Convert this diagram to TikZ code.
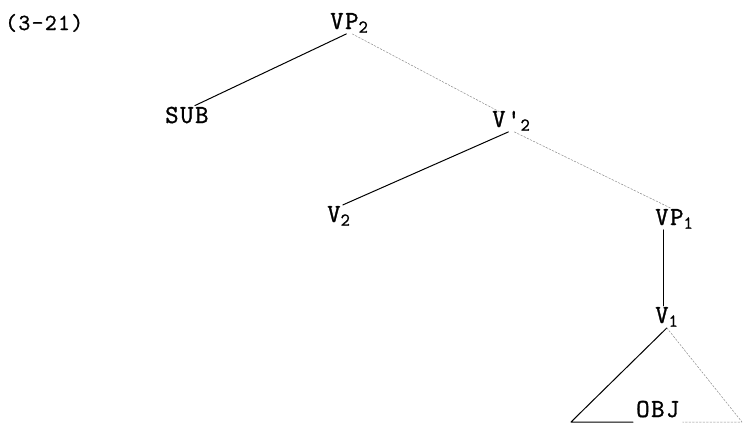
\documentclass[tikz,border=0pt]{standalone}
\usepackage{fontspec}
\newfontfamily\treefont{Latin Modern Mono}[LetterSpace=6,FakeBold=1.2]
\usetikzlibrary{calc}

\begin{document}
\begin{tikzpicture}[x=1pt,y=-1pt,line cap=round,line join=round,
    every node/.style={inner sep=1pt,font=\treefont\fontsize{26}{26}\selectfont},
    cat/.style={anchor=base west},
    branch/.style={line width=1pt},
    faint/.style={line width=0.5pt,black!45,dash pattern=on 2pt off 1.5pt}]
  \useasboundingbox (0,0) rectangle (743,424);
  \node[cat,font=\treefont\fontsize{23}{23}\selectfont] (lbl) at (4,30) {(3-21)};
  \node[cat] (vptwo) at (329,29) {VP\textsubscript{2}};
  \node[cat] (sub) at (164,123) {SUB};
  \node[cat] (vbartwo) at (491,127) {V'\textsubscript{2}};
  \node[cat] (vtwo) at (326,222) {V\textsubscript{2}};
  \node[cat] (vpone) at (654,225) {VP\textsubscript{1}};
  \node[cat] (vone) at (654,323) {V\textsubscript{1}};
  \node[cat,inner sep=0pt] (obj) at (636,417) {OBJ};
  \coordinate (baseL) at (571,422);
  \coordinate (baseR) at (742,422);
  % branches
  \draw[branch] ([xshift=-3pt]vptwo.south) -- ([xshift=8pt]sub.north);
  \draw[faint] ([xshift=3pt]vptwo.south) -- ([xshift=-12pt,yshift=-2pt]vbartwo.north);
  \draw[branch] ([xshift=-3pt]vbartwo.south) -- ([xshift=4pt]vtwo.north);
  \draw[faint] ([xshift=3pt]vbartwo.south) -- ([xshift=-4pt]vpone.north);
  \draw[branch] ([xshift=9pt]vpone.south west) -- ([xshift=9pt]vone.north west);
  % triangle
  \draw[branch] (vone.south) -- (baseL) -- ([xshift=-3pt]baseL -| obj.west);
  \draw[faint] (vone.south) -- (baseR) -- ([xshift=3pt]baseR -| obj.east);
\end{tikzpicture}
\end{document}
